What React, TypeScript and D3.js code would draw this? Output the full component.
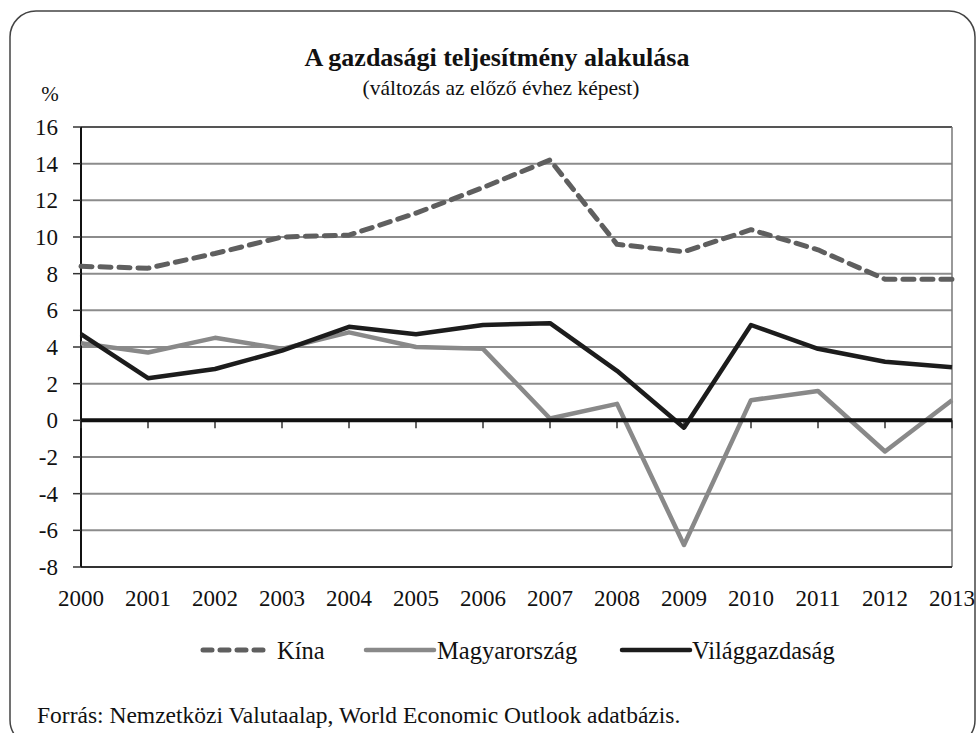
import React from 'react';
import * as d3 from 'd3';

// values (annual % change)
const years = [2000, 2001, 2002, 2003, 2004, 2005, 2006, 2007, 2008, 2009, 2010, 2011, 2012, 2013];
const kina = [8.4, 8.3, 9.1, 10.0, 10.1, 11.3, 12.7, 14.2, 9.6, 9.2, 10.4, 9.3, 7.7, 7.7];
const magyarorszag = [4.2, 3.7, 4.5, 3.9, 4.8, 4.0, 3.9, 0.1, 0.9, -6.8, 1.1, 1.6, -1.7, 1.1];
const vilaggazdasag = [4.7, 2.3, 2.8, 3.8, 5.1, 4.7, 5.2, 5.3, 2.7, -0.4, 5.2, 3.9, 3.2, 2.9];
const yTicks = [16, 14, 12, 10, 8, 6, 4, 2, 0, -2, -4, -6, -8];

const seriesNames = ['Kína', 'Magyarország', 'Világgazdaság'];

const W = 977;
const H = 733;
const FONT = "'Liberation Serif', 'DejaVu Serif', serif";

const App = () => {
  const left = 81;
  const right = 952;
  const top = 127;
  const bottom = 567;

  const x = d3.scaleLinear().domain([2000, 2013]).range([left, right]);
  const y = d3.scaleLinear().domain([-8, 16]).range([bottom, top]);

  const line = d3.line<number>()
    .x((_, i) => x(years[i]))
    .y((d) => y(d));

  const series = [
    { name: seriesNames[0], values: kina, color: '#5f5f5f', width: 5, dash: '11 8' },
    { name: seriesNames[1], values: magyarorszag, color: '#898989', width: 4.5, dash: undefined },
    { name: seriesNames[2], values: vilaggazdasag, color: '#1c1c1c', width: 4.5, dash: undefined },
  ];

  // legend layout: sample line start/end, text start
  const legendItems = [
    { x0: 203, x1: 270, tx: 277 },
    { x0: 366, x1: 434, tx: 437 },
    { x0: 622, x1: 690, tx: 692 },
  ];
  const legendY = 650;

  return (
    <svg width={W} height={H} style={{ display: 'block', position: 'absolute', left: 0, top: 0, fontFamily: FONT }}>
      <rect x={0} y={0} width={W} height={H} fill="#fff" />
      <rect x={10} y={11} width={965} height={735} rx={26} ry={26} fill="none" stroke="#444" strokeWidth={1.5} />

      <text x={497} y={66} textAnchor="middle" fontSize={26} fontWeight="bold" fill="#111" style={{ fontFamily: FONT }}>
        A gazdasági teljesítmény alakulása
      </text>
      <text x={501} y={95} textAnchor="middle" fontSize={21.5} fill="#111" style={{ fontFamily: FONT }}>
        (változás az előző évhez képest)
      </text>
      <text x={50} y={101} textAnchor="middle" fontSize={21} fill="#111" style={{ fontFamily: FONT }}>%</text>

      {/* horizontal grid */}
      {yTicks.filter((t) => t !== 0 && t !== -8 && t !== 16).map((t) => (
        <line key={t} x1={left} x2={right} y1={y(t)} y2={y(t)} stroke="#8c8c8c" strokeWidth={2} />
      ))}
      <line x1={left} x2={right} y1={y(16)} y2={y(16)} stroke="#555" strokeWidth={2} />
      <line x1={right} x2={right} y1={y(16)} y2={y(-8)} stroke="#777" strokeWidth={1.5} />
      <line x1={left} x2={right} y1={y(-8)} y2={y(-8)} stroke="#333" strokeWidth={2} />

      {/* y axis */}
      <line x1={left} x2={left} y1={y(16)} y2={y(-8)} stroke="#111" strokeWidth={2} />
      {yTicks.map((t) => (
        <g key={t}>
          <line x1={left - 8} x2={left} y1={y(t)} y2={y(t)} stroke="#333" strokeWidth={1.5} />
          <text x={58} y={y(t)} dy="0.35em" textAnchor="end" fontSize={23} fill="#111" style={{ fontFamily: FONT }}>
            {t}
          </text>
        </g>
      ))}

      {/* x ticks on zero line */}
      {years.map((yr) => (
        <line key={yr} x1={x(yr)} x2={x(yr)} y1={y(0)} y2={y(0) + 8} stroke="#333" strokeWidth={1.5} />
      ))}
      {years.map((yr) => (
        <text key={yr} x={x(yr)} y={598} dy="0.35em" textAnchor="middle" fontSize={23} fill="#111" style={{ fontFamily: FONT }}>
          {yr}
        </text>
      ))}

      {/* data lines */}
      {series.map((s) => (
        <path
          key={s.name}
          d={line(s.values) || ''}
          fill="none"
          stroke={s.color}
          strokeWidth={s.width}
          strokeDasharray={s.dash}
          strokeLinecap={s.dash ? 'round' : 'butt'}
          strokeLinejoin="round"
        />
      ))}

      {/* zero line */}
      <line x1={left} x2={right} y1={y(0)} y2={y(0)} stroke="#111" strokeWidth={4} />

      {/* legend */}
      {series.map((s, i) => (
        <g key={s.name}>
          <line
            x1={legendItems[i].x0}
            x2={legendItems[i].x1}
            y1={legendY}
            y2={legendY}
            stroke={s.color}
            strokeWidth={s.width}
            strokeDasharray={s.dash ? '9 8' : undefined}
            strokeLinecap="round"
          />
          <text x={legendItems[i].tx} y={legendY} dy="0.35em" fontSize={24.5} fill="#111" style={{ fontFamily: FONT }}>
            {s.name}
          </text>
        </g>
      ))}

      <text x={37} y={715} dy="0.35em" fontSize={23.5} fill="#111" style={{ fontFamily: FONT }}>
        Forrás: Nemzetközi Valutaalap, World Economic Outlook adatbázis.
      </text>
    </svg>
  );
};

export default App;
